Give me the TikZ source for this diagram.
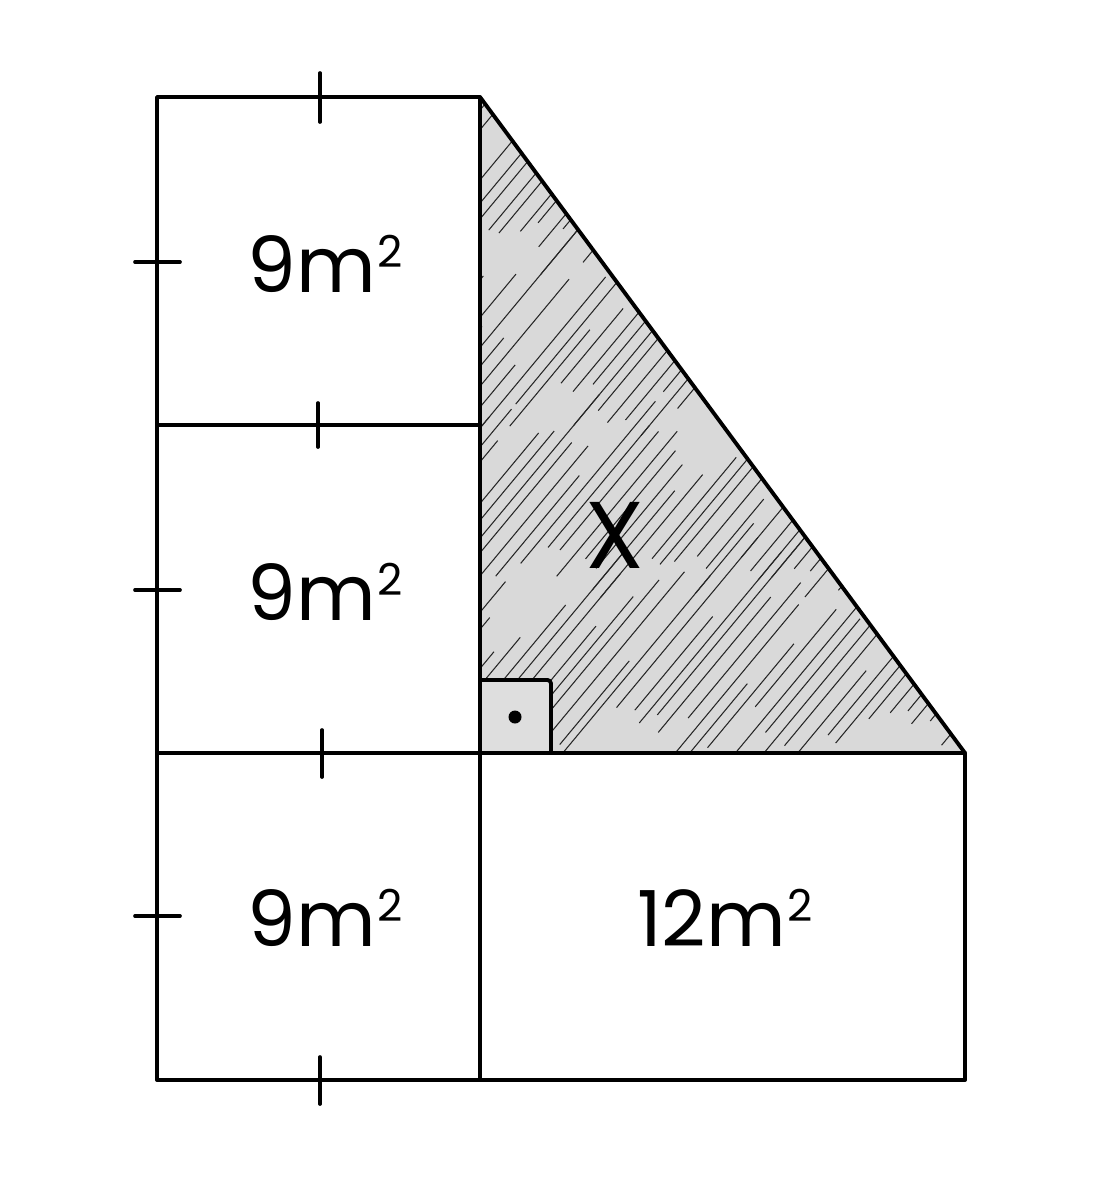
\documentclass[tikz,border=0pt]{standalone}
\usepackage{fontspec}
\setmainfont{Poppins}
\newcommand\sqm{m\kern1pt\raisebox{14pt}{\fontsize{25}{25}\selectfont 2}}
\begin{document}
\begin{tikzpicture}[x=0.02cm,y=-0.02cm,
  edge/.style={line width=2.2pt,line join=round},
  tick/.style={line width=2.1pt,line cap=round},
  hatch/.style={line width=0.6pt,black!85},
  lbl/.style={anchor=base,inner sep=0pt,font=\fontsize{44}{50}\selectfont}]
\useasboundingbox (0,0) rectangle (1115,1200);
% shaded triangle
\fill[black!15] (480,97) -- (480,753) -- (965,753) -- cycle;
\pgfmathsetseed{11}
\begin{scope}
\clip (480,97) -- (480,753) -- (965,753) -- cycle;
\foreach \i in {0,...,68}{
  \pgfmathsetmacro\sx{-80+\i*15.5+rnd*7}
  \foreach \k in {0,1,2,3}{
    \pgfmathsetmacro\t{\k*210+rnd*70}
    \pgfmathsetmacro\L{90+rnd*150}
    \draw[hatch] (\sx+\t*0.64,760-\t*0.77) -- ++(\L*0.64,-\L*0.77);
  }
}
\end{scope}
% right angle mark
\fill[black!13] (482,682) rectangle (549,751);
\draw[edge,rounded corners=2pt] (480,680) -- (551,680) -- (551,753);
\fill (515,717) circle (6.5);
% rectangles
\draw[edge] (157,97) rectangle (480,425);
\draw[edge] (157,425) rectangle (480,753);
\draw[edge] (157,753) rectangle (480,1080);
\draw[edge] (480,753) rectangle (965,1080);
\draw[edge] (480,97) -- (965,753);
% ticks
\draw[tick] (320,73) -- (320,122);
\draw[tick] (318,403) -- (318,447);
\draw[tick] (322,730) -- (322,777);
\draw[tick] (320,1057) -- (320,1104);
\draw[tick] (135,262) -- (180,262);
\draw[tick] (135,590) -- (180,590);
\draw[tick] (135,916) -- (180,916);
% labels
\node[lbl] (a1) at (325,292) {9\sqm};
\node[lbl] (a2) at (325,620) {9\sqm};
\node[lbl] (a3) at (325,946) {9\sqm};
\node[lbl] (a4) at (725,946) {12\sqm};
\node[lbl,font=\fontsize{54}{58}\selectfont] (x) at (615,568) {X};
\end{tikzpicture}
\end{document}
